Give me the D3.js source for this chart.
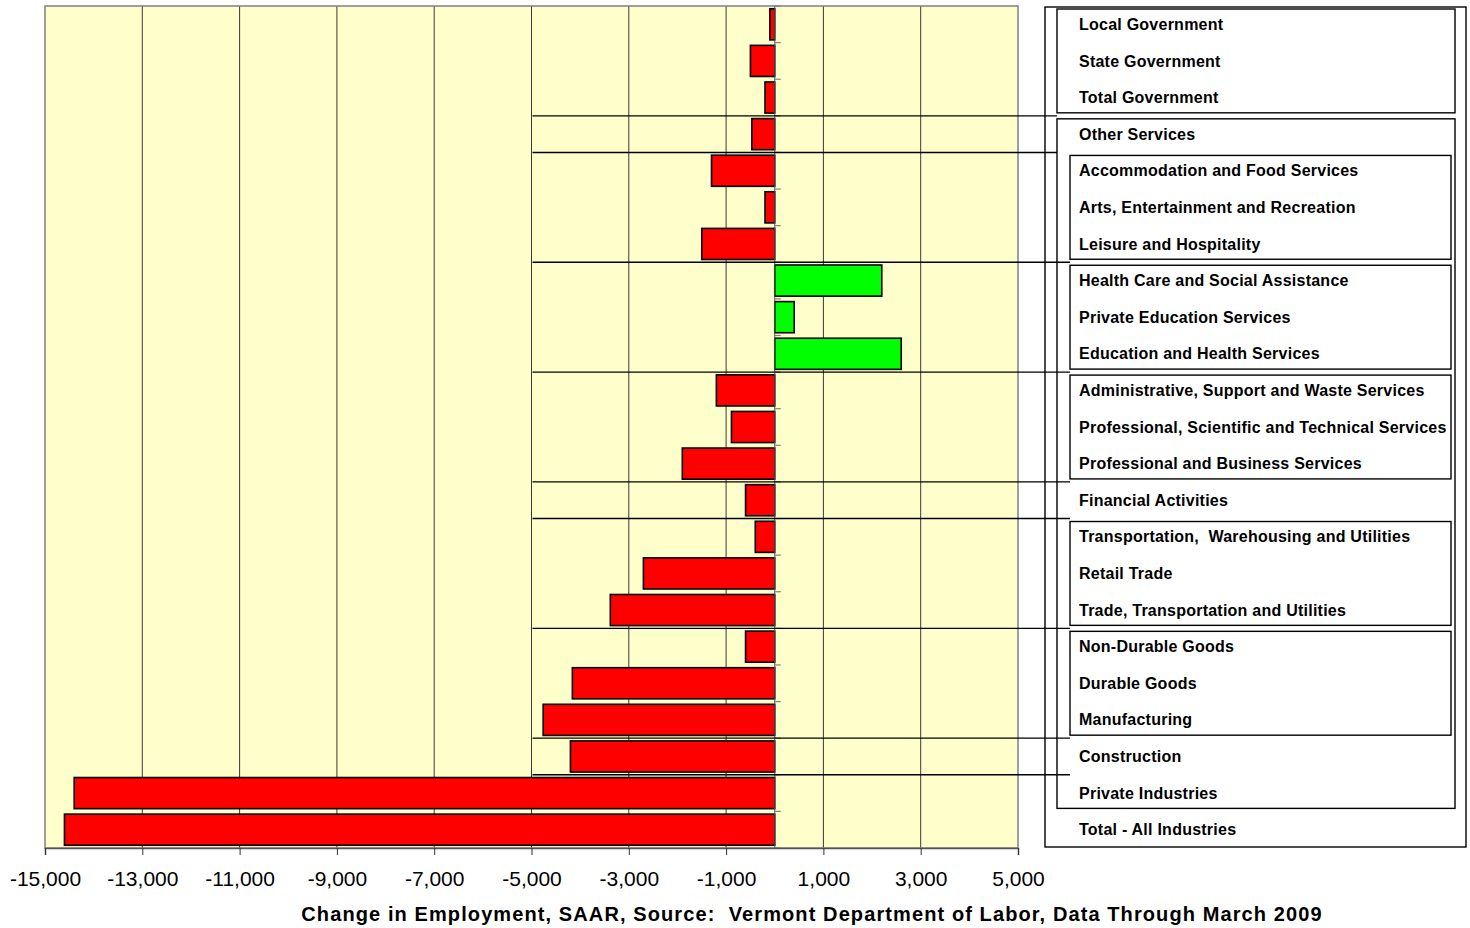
<!DOCTYPE html>
<html>
<head>
<meta charset="utf-8">
<script src="https://cdn.jsdelivr.net/npm/d3@7"></script>
<style>
  body { margin: 0; background: #fff; }
  svg { display: block; font-family: "Liberation Sans", Arial, sans-serif; }
</style>
</head>
<body>
<div id="chart"></div>
<script>
// industries, top to bottom as drawn
const industries = [
  'Local Government',
  'State Government',
  'Total Government',
  'Other Services',
  'Accommodation and Food Services',
  'Arts, Entertainment and Recreation',
  'Leisure and Hospitality',
  'Health Care and Social Assistance',
  'Private Education Services',
  'Education and Health Services',
  'Administrative, Support and Waste Services',
  'Professional, Scientific and Technical Services',
  'Professional and Business Services',
  'Financial Activities',
  'Transportation,  Warehousing and Utilities',
  'Retail Trade',
  'Trade, Transportation and Utilities',
  'Non-Durable Goods',
  'Durable Goods',
  'Manufacturing',
  'Construction',
  'Private Industries',
  'Total - All Industries'
];
// change in employment (jobs)
const changes = [
  -100, -500, -200, -470, -1300, -200, -1500,
  2200, 400, 2600,
  -1200, -890, -1900, -600,
  -400, -2700, -3380,
  -600, -4160, -4760, -4200,
  -14400, -14600
];
const xTicks = [-15000, -13000, -11000, -9000, -7000, -5000, -3000, -1000, 1000, 3000, 5000];
const xDomain = [-15000, 5000];
// brackets on the label panel: [first row, last row, nesting level]
const groupSpans = [
  [0, 22, 0],
  [0, 2, 1], [3, 21, 1],
  [4, 6, 2], [7, 9, 2], [10, 12, 2], [14, 16, 2], [17, 19, 2]
];
// separator lines under a row: [row, nesting level they run to]
const separators = [[2, 1], [3, 1], [6, 2], [9, 2], [12, 2], [13, 2], [16, 2], [19, 2], [20, 2]];
const axisTitle = 'Change in Employment, SAAR, Source:  Vermont Department of Labor, Data Through March 2009';

const width = 1470, height = 928;
const plot = {left: 45, right: 1018, top: 6, bottom: 848};
// left/right edges of the bracket boxes per nesting level
const levelX = [[1045, 1466], [1057, 1455], [1070, 1451]];
const labelX = 1079;

const fmt = d3.formatLocale({decimal: '.', thousands: ',', grouping: [3],
  currency: ['$', ''], minus: '-'}).format(',');

const svg = d3.select('#chart').append('svg')
  .attr('width', width).attr('height', height);

const x = d3.scaleLinear().domain(xDomain).range([plot.left, plot.right]);
const y = d3.scaleBand().domain(industries)
  .range([plot.top, plot.bottom])
  .paddingInner(0.15).paddingOuter(0.075);

// top edge of a row band (including its padding)
let rowTop = function(i) {
  return y(industries[i]) - y.step() * y.paddingInner() / 2;
};
let rowBottom = function(i) {
  return rowTop(i) + y.step();
};

// plot background
svg.append('rect')
  .attr('x', plot.left).attr('y', plot.top)
  .attr('width', plot.right - plot.left).attr('height', plot.bottom - plot.top)
  .style('fill', '#ffffcc');

// vertical gridlines
svg.append('g').selectAll('line')
  .data(xTicks.slice(1, -1))
  .enter().append('line')
  .attr('x1', d => x(d)).attr('x2', d => x(d))
  .attr('y1', plot.top).attr('y2', plot.bottom)
  .style('stroke', '#3a3a3a').style('stroke-width', 1);

// plot border
svg.append('rect')
  .attr('x', plot.left).attr('y', plot.top)
  .attr('width', plot.right - plot.left).attr('height', plot.bottom - plot.top)
  .style('fill', 'none').style('stroke', '#808080').style('stroke-width', 1.5);

// bars
svg.append('g').selectAll('rect')
  .data(industries)
  .enter().append('rect')
  .attr('x', (d, i) => x(Math.min(0, changes[i])))
  .attr('y', d => y(d))
  .attr('width', (d, i) => Math.abs(x(changes[i]) - x(0)))
  .attr('height', y.bandwidth())
  .style('fill', (d, i) => changes[i] >= 0 ? '#00ff00' : '#ff0000')
  .style('stroke', '#000').style('stroke-width', 1.6);

// zero axis with small ticks pointing right
const zeroAxis = svg.append('g').attr('transform', `translate(${x(0)},0)`);
zeroAxis.append('line')
  .attr('y1', plot.top).attr('y2', plot.bottom)
  .style('stroke', '#555').style('stroke-width', 1);
zeroAxis.selectAll('line.tick')
  .data(d3.range(industries.length + 1))
  .enter().append('line')
  .attr('class', 'tick')
  .attr('x1', 0).attr('x2', 6)
  .attr('y1', i => i < industries.length ? rowTop(i) : rowBottom(i - 1))
  .attr('y2', i => i < industries.length ? rowTop(i) : rowBottom(i - 1))
  .style('stroke', '#808080').style('stroke-width', 1.2);

// bottom value axis
const xAxis = svg.append('g')
  .attr('transform', `translate(0,${plot.bottom})`)
  .call(d3.axisBottom(x).tickValues(xTicks).tickFormat(fmt).tickSize(7).tickPadding(16));
xAxis.select('.domain').style('stroke', '#555').style('stroke-width', 1.5);
xAxis.selectAll('.tick line').style('stroke', '#333');
xAxis.selectAll('.tick text')
  .style('font-size', '21px').style('fill', '#000')
  .style('font-family', '"Liberation Sans", Arial, sans-serif');

svg.append('text')
  .attr('x', 812).attr('y', 921)
  .attr('text-anchor', 'middle')
  .attr('xml:space', 'preserve')
  .style('white-space', 'pre')
  .style('font-size', '20px').style('font-weight', 'bold')
  .style('letter-spacing', '1.1px')
  .text(axisTitle);

// separator lines from the -5,000 gridline into the label panel
svg.append('g').selectAll('line')
  .data(separators)
  .enter().append('line')
  .attr('x1', x(-5000) + 1)
  .attr('x2', d => levelX[d[1]][0])
  .attr('y1', d => rowBottom(d[0]))
  .attr('y2', d => rowBottom(d[0]))
  .style('stroke', '#000').style('stroke-width', 1.4);

// bracket boxes
const inset = [1, 3, 3];
svg.append('g').selectAll('rect')
  .data(groupSpans)
  .enter().append('rect')
  .attr('x', d => levelX[d[2]][0])
  .attr('width', d => levelX[d[2]][1] - levelX[d[2]][0])
  .attr('y', d => rowTop(d[0]) + inset[d[2]])
  .attr('height', d => rowBottom(d[1]) - rowTop(d[0]) - 2 * inset[d[2]])
  .style('fill', 'none').style('stroke', '#000').style('stroke-width', 1.4);

// industry labels
svg.append('g').selectAll('text')
  .data(industries)
  .enter().append('text')
  .attr('x', labelX)
  .attr('y', d => y(d) + y.bandwidth() / 2)
  .attr('dy', '0.35em')
  .attr('xml:space', 'preserve')
  .style('white-space', 'pre')
  .style('font-size', '16px').style('font-weight', 'bold')
  .style('letter-spacing', '0.24px')
  .text(d => d);
</script>
</body>
</html>
